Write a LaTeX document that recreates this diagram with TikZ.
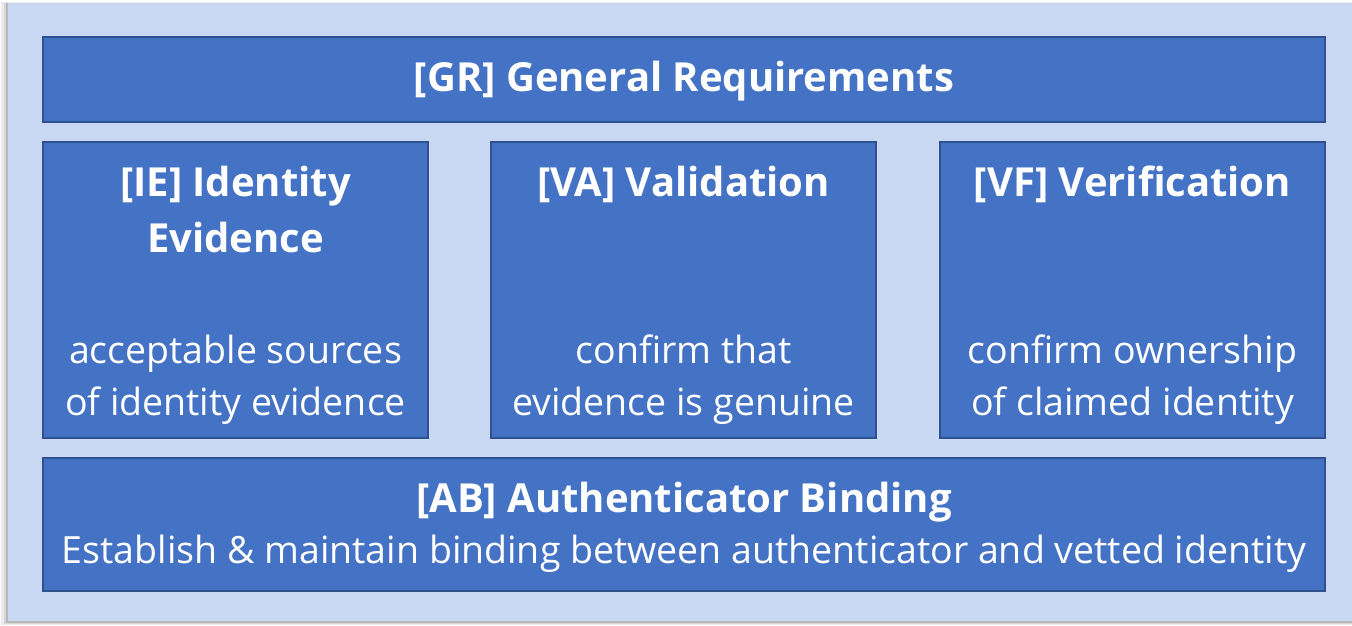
\documentclass[tikz,border=0pt]{standalone}
\usepackage{fontspec}
\setmainfont{Open Sans}
\definecolor{bgblue}{HTML}{C9D9F4}
\definecolor{boxfill}{HTML}{4472C4}
\definecolor{boxline}{HTML}{2F528F}
\tikzset{
  blk/.style={draw=boxline, line width=2.5pt, fill=boxfill},
  ttl/.style={text=white, font=\fontsize{40}{48}\selectfont\bfseries, anchor=base, inner sep=0pt},
  bdy/.style={text=white, font=\fontsize{37.5}{45}\selectfont, anchor=base, inner sep=0pt}
}
\begin{document}
\begin{tikzpicture}[x=1pt,y=-1pt]
\useasboundingbox (0,0) rectangle (1352,625);
\fill[white] (0,0) rectangle (1352,625);
% shadow
\fill[black!8] (1,2) rectangle (1352,625);
\fill[black!16] (4,3) rectangle (1352,624);
\fill[black!28] (6,3) rectangle (1352,623);
\fill[bgblue] (8,3) rectangle (1352,621);
% boxes
\draw[blk] (43,37) rectangle (1325,122) node[midway] (grbox) {};
\draw[blk] (43,142) rectangle (428,438) node[midway] (iebox) {};
\draw[blk] (491,142) rectangle (876,438) node[midway] (vabox) {};
\draw[blk] (940,142) rectangle (1325,438) node[midway] (vfbox) {};
\draw[blk] (43,458) rectangle (1325,591) node[midway] (abbox) {};
% texts
\node[ttl] (gr) at (684,91) {[GR] General Requirements};
\node[ttl] (ie1) at (235.5,196) {[IE] Identity};
\node[ttl] (ie2) at (235.5,252) {Evidence};
\node[bdy] (ie3) at (235.5,363) {acceptable sources};
\node[bdy] (ie4) at (235.5,415) {of identity evidence};
\node[ttl] (va1) at (683.5,196) {[VA] Validation};
\node[bdy] (va3) at (683.5,363) {confirm that};
\node[bdy] (va4) at (683.5,415) {evidence is genuine};
\node[ttl] (vf1) at (1132.5,196) {[VF] Verification};
\node[bdy] (vf3) at (1132.5,363) {confirm ownership};
\node[bdy] (vf4) at (1132.5,415) {of claimed identity};
\node[ttl] (ab1) at (684,512) {[AB] Authenticator Binding};
\node[bdy] (ab2) at (684,563) {Establish \& maintain binding between authenticator and vetted identity};
\end{tikzpicture}
\end{document}
